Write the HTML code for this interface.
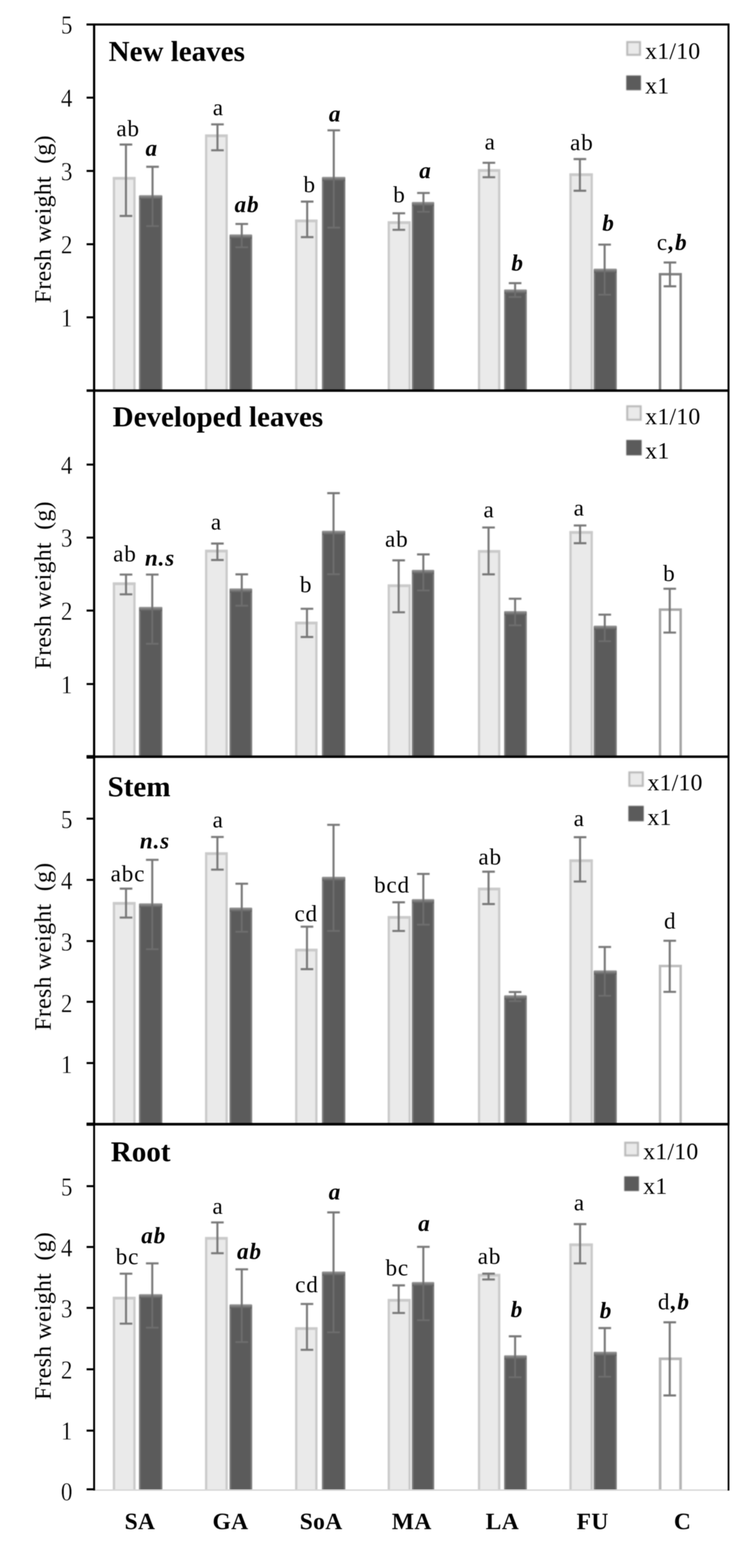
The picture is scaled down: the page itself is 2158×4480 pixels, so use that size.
<!DOCTYPE html>
<html lang="en"><head><meta charset="utf-8"><title>Fresh weight of plant organs</title>
<style>
html,body{margin:0;padding:0;background:#fff;}
body{width:2158px;height:4480px;overflow:hidden;}
svg{display:block;font-family:"Liberation Serif","DejaVu Serif",serif;fill:#000;}
.soft{filter:blur(1.5px);}
.crisp{filter:blur(0.8px);}
.txt{filter:blur(1px);}
.r{font-size:66px;letter-spacing:2.4px;}
.i{font-size:66px;font-weight:bold;font-style:italic;letter-spacing:2.4px;}
.t{font-size:68px;stroke:#fff;stroke-width:0.7px;}
.h{font-size:83px;font-weight:bold;}
.l{font-size:68px;letter-spacing:0.6px;}
.x{font-size:67px;font-weight:bold;letter-spacing:1.2px;}
.y{font-size:68px;letter-spacing:0.8px;white-space:pre;}
</style></head><body>
<svg width="2158" height="4480" viewBox="0 0 2158 4480" role="img" aria-label="Fresh weight (g) of new leaves, developed leaves, stem and root per treatment">
<rect width="2158" height="4480" fill="#fff"/>
<defs><linearGradient id="dtop" x1="0" y1="0" x2="0" y2="1"><stop offset="0" stop-color="#9c9c9c"/><stop offset="0.5" stop-color="#7a7a7a"/><stop offset="1" stop-color="#5b5b5b"/></linearGradient></defs>
<g id="panel1" class="soft">
<rect x="322.5" y="506" width="65" height="610" fill="#eaeaea"/>
<path d="M325.8 1116V509.2H384.2V1116" fill="none" stroke="#cacaca" stroke-width="6.5"/>
<rect x="322.5" y="505.5" width="65" height="8" fill="#cacaca"/>
<rect x="397.5" y="559" width="66.5" height="557" fill="#5b5b5b"/>
<path d="M399.8 1116V561.2H461.8V1116" fill="none" stroke="#7a7a7a" stroke-width="4.5"/>
<rect x="398.5" y="557.5" width="64.5" height="12" fill="url(#dtop)"/>
<path d="M342 413H378M360 413V617M342 617H378" stroke="#777777" stroke-width="5.8" fill="none"/>
<path d="M436 559V646M418 646H454" stroke="#6d6d6d" stroke-width="5.2" fill="none"/>
<path d="M418 476.5H454M436 476.5V559" stroke="#777777" stroke-width="5.8" fill="none"/>
<rect x="586" y="384.4" width="65" height="731.6" fill="#eaeaea"/>
<path d="M589.2 1116V387.6H647.8V1116" fill="none" stroke="#cacaca" stroke-width="6.5"/>
<rect x="586" y="383.9" width="65" height="8" fill="#cacaca"/>
<rect x="656" y="671.2" width="64.5" height="444.8" fill="#5b5b5b"/>
<path d="M658.2 1116V673.5H718.2V1116" fill="none" stroke="#7a7a7a" stroke-width="4.5"/>
<rect x="657" y="669.7" width="62.5" height="12" fill="url(#dtop)"/>
<path d="M603.6 355.4H639.6M621.6 355.4V429.4M603.6 429.4H639.6" stroke="#777777" stroke-width="5.8" fill="none"/>
<path d="M691 671.2V706.5M673 706.5H709" stroke="#6d6d6d" stroke-width="5.2" fill="none"/>
<path d="M673 639.8H709M691 639.8V671.2" stroke="#777777" stroke-width="5.8" fill="none"/>
<rect x="843.5" y="627.7" width="64" height="488.3" fill="#eaeaea"/>
<path d="M846.8 1116V631H904.2V1116" fill="none" stroke="#cacaca" stroke-width="6.5"/>
<rect x="843.5" y="627.2" width="64" height="8" fill="#cacaca"/>
<rect x="920.5" y="506.8" width="66.5" height="609.2" fill="#5b5b5b"/>
<path d="M922.8 1116V509.1H984.8V1116" fill="none" stroke="#7a7a7a" stroke-width="4.5"/>
<rect x="921.5" y="505.3" width="64.5" height="12" fill="url(#dtop)"/>
<path d="M860 576H896M878 576V677.5M860 677.5H896" stroke="#777777" stroke-width="5.8" fill="none"/>
<path d="M954 506.8V650.4M936 650.4H972" stroke="#6d6d6d" stroke-width="5.2" fill="none"/>
<path d="M936 372.3H972M954 372.3V506.8" stroke="#777777" stroke-width="5.8" fill="none"/>
<rect x="1108" y="632.5" width="66" height="483.5" fill="#eaeaea"/>
<path d="M1111.2 1116V635.8H1170.8V1116" fill="none" stroke="#cacaca" stroke-width="6.5"/>
<rect x="1108" y="632" width="66" height="8" fill="#cacaca"/>
<rect x="1177.5" y="578.4" width="63.5" height="537.6" fill="#5b5b5b"/>
<path d="M1179.8 1116V580.6H1238.8V1116" fill="none" stroke="#7a7a7a" stroke-width="4.5"/>
<rect x="1178.5" y="576.9" width="61.5" height="12" fill="url(#dtop)"/>
<path d="M1122 609.3H1158M1140 609.3V656.7M1122 656.7H1158" stroke="#777777" stroke-width="5.8" fill="none"/>
<path d="M1210.3 578.4V605M1192.3 605H1228.3" stroke="#6d6d6d" stroke-width="5.2" fill="none"/>
<path d="M1192.3 551.3H1228.3M1210.3 551.3V578.4" stroke="#777777" stroke-width="5.8" fill="none"/>
<rect x="1366" y="483.6" width="64" height="632.4" fill="#eaeaea"/>
<path d="M1369.2 1116V486.9H1426.8V1116" fill="none" stroke="#cacaca" stroke-width="6.5"/>
<rect x="1366" y="483.1" width="64" height="8" fill="#cacaca"/>
<rect x="1441" y="828.4" width="64.5" height="287.6" fill="#5b5b5b"/>
<path d="M1443.2 1116V830.6H1503.2V1116" fill="none" stroke="#7a7a7a" stroke-width="4.5"/>
<rect x="1442" y="826.9" width="62.5" height="12" fill="url(#dtop)"/>
<path d="M1379.4 465.2H1415.4M1397.4 465.2V506.3M1379.4 506.3H1415.4" stroke="#777777" stroke-width="5.8" fill="none"/>
<path d="M1472.3 828.4V848.7M1454.3 848.7H1490.3" stroke="#6d6d6d" stroke-width="5.2" fill="none"/>
<path d="M1454.3 809H1490.3M1472.3 809V828.4" stroke="#777777" stroke-width="5.8" fill="none"/>
<rect x="1627.5" y="495.6" width="67" height="620.4" fill="#eaeaea"/>
<path d="M1630.8 1116V498.9H1691.2V1116" fill="none" stroke="#cacaca" stroke-width="6.5"/>
<rect x="1627.5" y="495.1" width="67" height="8" fill="#cacaca"/>
<rect x="1697" y="769" width="66" height="347" fill="#5b5b5b"/>
<path d="M1699.2 1116V771.2H1760.8V1116" fill="none" stroke="#7a7a7a" stroke-width="4.5"/>
<rect x="1698" y="767.5" width="64" height="12" fill="url(#dtop)"/>
<path d="M1639.5 454.5H1675.5M1657.5 454.5V545M1639.5 545H1675.5" stroke="#777777" stroke-width="5.8" fill="none"/>
<path d="M1728.2 769V842M1710.2 842H1746.2" stroke="#6d6d6d" stroke-width="5.2" fill="none"/>
<path d="M1710.2 698.8H1746.2M1728.2 698.8V769" stroke="#777777" stroke-width="5.8" fill="none"/>
<rect x="1883" y="780" width="66" height="336" fill="#fff"/>
<path d="M1886.5 1116V783.5H1945.5V1116" fill="none" stroke="#808080" stroke-width="7"/>
<path d="M1896.9 750H1932.9M1914.9 750V818M1896.9 818H1932.9" stroke="#777777" stroke-width="5.8" fill="none"/>
</g>
<g id="text1" class="txt">
<text x="366.2" y="389" class="r" text-anchor="middle">ab</text>
<text x="624.1" y="328.8" class="r" text-anchor="middle">a</text>
<text x="885.3" y="548.8" class="r" text-anchor="middle">b</text>
<text x="1141.7" y="578" class="r" text-anchor="middle">b</text>
<text x="1401" y="426.5" class="r" text-anchor="middle">a</text>
<text x="1663" y="429.4" class="r" text-anchor="middle">ab</text>
<text x="1877.5" y="714" class="r" text-anchor="start">c<tspan class="i" dx="1.5">,b</tspan></text>
<text x="433.7" y="444.5" class="i" text-anchor="middle">a</text>
<text x="705.9" y="606" class="i" text-anchor="middle">ab</text>
<text x="957.7" y="347.2" class="i" text-anchor="middle">a</text>
<text x="1216" y="508.7" class="i" text-anchor="middle">a</text>
<text x="1479.5" y="772.8" class="i" text-anchor="middle">b</text>
<text x="1739.3" y="659" class="i" text-anchor="middle">b</text>
<text x="310.5" y="174" class="h" text-anchor="start">New leaves</text>
<g class="soft">
<rect x="1792.8" y="120.2" width="36.5" height="36.5" fill="#eaeaea" stroke="#b9b9b9" stroke-width="5.5"/>
<rect x="1790" y="215.7" width="42" height="42" fill="#5b5b5b"/>
</g>
<text x="1844" y="168" class="l" text-anchor="start">x1/10</text>
<text x="1844" y="267.4" class="l" text-anchor="start">x1</text>
<text class="t" text-anchor="middle" transform="translate(190.5 96.3) scale(0.97 1.09)">5</text>
<text class="t" text-anchor="middle" transform="translate(190.5 305.3) scale(0.97 1.09)">4</text>
<text class="t" text-anchor="middle" transform="translate(190.5 514.7) scale(0.97 1.09)">3</text>
<text class="t" text-anchor="middle" transform="translate(190.5 724.1) scale(0.97 1.09)">2</text>
<text class="t" text-anchor="middle" transform="translate(190.5 933) scale(0.97 1.09)">1</text>
<text class="y" text-anchor="middle" transform="translate(145 626.1) rotate(-90)" xml:space="preserve">Fresh weight  (g)</text>
</g>
<g id="panel2" class="soft">
<rect x="322.5" y="1664.3" width="65" height="497.2" fill="#eaeaea"/>
<path d="M325.8 2161.5V1667.5H384.2V2161.5" fill="none" stroke="#cacaca" stroke-width="6.5"/>
<rect x="322.5" y="1663.8" width="65" height="8" fill="#cacaca"/>
<rect x="397.5" y="1735.4" width="66.5" height="426.1" fill="#5b5b5b"/>
<path d="M399.8 2161.5V1737.7H461.8V2161.5" fill="none" stroke="#7a7a7a" stroke-width="4.5"/>
<rect x="398.5" y="1733.9" width="64.5" height="12" fill="url(#dtop)"/>
<path d="M342.2 1641.6H378.2M360.2 1641.6V1698.2M342.2 1698.2H378.2" stroke="#777777" stroke-width="5.8" fill="none"/>
<path d="M435.2 1735.4V1839.4M417.2 1839.4H453.2" stroke="#6d6d6d" stroke-width="5.2" fill="none"/>
<path d="M417.2 1641.6H453.2M435.2 1641.6V1735.4" stroke="#777777" stroke-width="5.8" fill="none"/>
<rect x="586" y="1571" width="65" height="590.5" fill="#eaeaea"/>
<path d="M589.2 2161.5V1574.2H647.8V2161.5" fill="none" stroke="#cacaca" stroke-width="6.5"/>
<rect x="586" y="1570.5" width="65" height="8" fill="#cacaca"/>
<rect x="656" y="1682.7" width="64.5" height="478.8" fill="#5b5b5b"/>
<path d="M658.2 2161.5V1685H718.2V2161.5" fill="none" stroke="#7a7a7a" stroke-width="4.5"/>
<rect x="657" y="1681.2" width="62.5" height="12" fill="url(#dtop)"/>
<path d="M603.4 1553H639.4M621.4 1553V1600M603.4 1600H639.4" stroke="#777777" stroke-width="5.8" fill="none"/>
<path d="M691 1682.7V1730.6M673 1730.6H709" stroke="#6d6d6d" stroke-width="5.2" fill="none"/>
<path d="M673 1641H709M691 1641V1682.7" stroke="#777777" stroke-width="5.8" fill="none"/>
<rect x="843.5" y="1776.5" width="64" height="385" fill="#eaeaea"/>
<path d="M846.8 2161.5V1779.8H904.2V2161.5" fill="none" stroke="#cacaca" stroke-width="6.5"/>
<rect x="843.5" y="1776" width="64" height="8" fill="#cacaca"/>
<rect x="920.5" y="1517.8" width="66.5" height="643.7" fill="#5b5b5b"/>
<path d="M922.8 2161.5V1520H984.8V2161.5" fill="none" stroke="#7a7a7a" stroke-width="4.5"/>
<rect x="921.5" y="1516.3" width="64.5" height="12" fill="url(#dtop)"/>
<path d="M859.4 1739.3H895.4M877.4 1739.3V1820M859.4 1820H895.4" stroke="#777777" stroke-width="5.8" fill="none"/>
<path d="M953.3 1517.8V1640.6M935.3 1640.6H971.3" stroke="#6d6d6d" stroke-width="5.2" fill="none"/>
<path d="M935.3 1409H971.3M953.3 1409V1517.8" stroke="#777777" stroke-width="5.8" fill="none"/>
<rect x="1108" y="1670" width="66" height="491.5" fill="#eaeaea"/>
<path d="M1111.2 2161.5V1673.2H1170.8V2161.5" fill="none" stroke="#cacaca" stroke-width="6.5"/>
<rect x="1108" y="1669.5" width="66" height="8" fill="#cacaca"/>
<rect x="1177.5" y="1629.5" width="63.5" height="532" fill="#5b5b5b"/>
<path d="M1179.8 2161.5V1631.8H1238.8V2161.5" fill="none" stroke="#7a7a7a" stroke-width="4.5"/>
<rect x="1178.5" y="1628" width="61.5" height="12" fill="url(#dtop)"/>
<path d="M1121.5 1601H1157.5M1139.5 1601V1749.4M1121.5 1749.4H1157.5" stroke="#777777" stroke-width="5.8" fill="none"/>
<path d="M1210 1629.5V1687M1192 1687H1228" stroke="#6d6d6d" stroke-width="5.2" fill="none"/>
<path d="M1192 1584H1228M1210 1584V1629.5" stroke="#777777" stroke-width="5.8" fill="none"/>
<rect x="1366" y="1572" width="64" height="589.5" fill="#eaeaea"/>
<path d="M1369.2 2161.5V1575.2H1426.8V2161.5" fill="none" stroke="#cacaca" stroke-width="6.5"/>
<rect x="1366" y="1571.5" width="64" height="8" fill="#cacaca"/>
<rect x="1441" y="1747.5" width="64.5" height="414" fill="#5b5b5b"/>
<path d="M1443.2 2161.5V1749.8H1503.2V2161.5" fill="none" stroke="#7a7a7a" stroke-width="4.5"/>
<rect x="1442" y="1746" width="62.5" height="12" fill="url(#dtop)"/>
<path d="M1378.4 1507.2H1414.4M1396.4 1507.2V1641M1378.4 1641H1414.4" stroke="#777777" stroke-width="5.8" fill="none"/>
<path d="M1472.3 1747.5V1786.7M1454.3 1786.7H1490.3" stroke="#6d6d6d" stroke-width="5.2" fill="none"/>
<path d="M1454.3 1710.7H1490.3M1472.3 1710.7V1747.5" stroke="#777777" stroke-width="5.8" fill="none"/>
<rect x="1627.5" y="1517.8" width="67" height="643.7" fill="#eaeaea"/>
<path d="M1630.8 2161.5V1521H1691.2V2161.5" fill="none" stroke="#cacaca" stroke-width="6.5"/>
<rect x="1627.5" y="1517.3" width="67" height="8" fill="#cacaca"/>
<rect x="1697" y="1789" width="66" height="372.5" fill="#5b5b5b"/>
<path d="M1699.2 2161.5V1791.2H1760.8V2161.5" fill="none" stroke="#7a7a7a" stroke-width="4.5"/>
<rect x="1698" y="1787.5" width="64" height="12" fill="url(#dtop)"/>
<path d="M1640 1501.4H1676M1658 1501.4V1552M1640 1552H1676" stroke="#777777" stroke-width="5.8" fill="none"/>
<path d="M1728.6 1789V1832M1710.6 1832H1746.6" stroke="#6d6d6d" stroke-width="5.2" fill="none"/>
<path d="M1710.6 1756.2H1746.6M1728.6 1756.2V1789" stroke="#777777" stroke-width="5.8" fill="none"/>
<rect x="1883" y="1738.3" width="66" height="423.2" fill="#fff"/>
<path d="M1886.5 2161.5V1741.8H1945.5V2161.5" fill="none" stroke="#a6a6a6" stroke-width="7"/>
<path d="M1896.3 1682.2H1932.3M1914.3 1682.2V1807.4M1896.3 1807.4H1932.3" stroke="#777777" stroke-width="5.8" fill="none"/>
</g>
<g id="text2" class="txt">
<text x="357.1" y="1603.9" class="r" text-anchor="middle">ab</text>
<text x="457.2" y="1616" class="i" text-anchor="middle">n.s</text>
<text x="618.7" y="1513" class="r" text-anchor="middle">a</text>
<text x="875" y="1692.4" class="r" text-anchor="middle">b</text>
<text x="1134.1" y="1561.8" class="r" text-anchor="middle">ab</text>
<text x="1397.9" y="1478" class="r" text-anchor="middle">a</text>
<text x="1655.7" y="1473.3" class="r" text-anchor="middle">a</text>
<text x="1913.3" y="1660.4" class="r" text-anchor="middle">b</text>
<text x="322" y="1217.6" class="h" text-anchor="start">Developed leaves</text>
<g class="soft">
<rect x="1792.8" y="1160.8" width="38.5" height="38.5" fill="#eaeaea" stroke="#b9b9b9" stroke-width="5.5"/>
<rect x="1790" y="1257" width="44" height="44" fill="#5b5b5b"/>
</g>
<text x="1844.3" y="1211.8" class="l" text-anchor="start">x1/10</text>
<text x="1844.3" y="1310.4" class="l" text-anchor="start">x1</text>
<text class="t" text-anchor="middle" transform="translate(190.5 1353.7) scale(0.97 1.09)">4</text>
<text class="t" text-anchor="middle" transform="translate(190.5 1562.3) scale(0.97 1.09)">3</text>
<text class="t" text-anchor="middle" transform="translate(190.5 1770.8) scale(0.97 1.09)">2</text>
<text class="t" text-anchor="middle" transform="translate(190.5 1980.7) scale(0.97 1.09)">1</text>
<text class="y" text-anchor="middle" transform="translate(145 1672) rotate(-90)" xml:space="preserve">Fresh weight  (g)</text>
</g>
<g id="panel3" class="soft">
<rect x="322.5" y="2577.6" width="65" height="634.4" fill="#eaeaea"/>
<path d="M325.8 3212V2580.8H384.2V3212" fill="none" stroke="#cacaca" stroke-width="6.5"/>
<rect x="322.5" y="2577.1" width="65" height="8" fill="#cacaca"/>
<rect x="397.5" y="2582.4" width="66.5" height="629.6" fill="#5b5b5b"/>
<path d="M399.8 3212V2584.7H461.8V3212" fill="none" stroke="#7a7a7a" stroke-width="4.5"/>
<rect x="398.5" y="2580.9" width="64.5" height="12" fill="url(#dtop)"/>
<path d="M342.2 2539H378.2M360.2 2539V2621.6M342.2 2621.6H378.2" stroke="#777777" stroke-width="5.8" fill="none"/>
<path d="M435.2 2582.4V2712M417.2 2712H453.2" stroke="#6d6d6d" stroke-width="5.2" fill="none"/>
<path d="M417.2 2456.7H453.2M435.2 2456.7V2582.4" stroke="#777777" stroke-width="5.8" fill="none"/>
<rect x="586" y="2435.4" width="65" height="776.6" fill="#eaeaea"/>
<path d="M589.2 3212V2438.7H647.8V3212" fill="none" stroke="#cacaca" stroke-width="6.5"/>
<rect x="586" y="2434.9" width="65" height="8" fill="#cacaca"/>
<rect x="656" y="2594.5" width="64.5" height="617.5" fill="#5b5b5b"/>
<path d="M658.2 3212V2596.8H718.2V3212" fill="none" stroke="#7a7a7a" stroke-width="4.5"/>
<rect x="657" y="2593" width="62.5" height="12" fill="url(#dtop)"/>
<path d="M603.4 2391.4H639.4M621.4 2391.4V2484.7M603.4 2484.7H639.4" stroke="#777777" stroke-width="5.8" fill="none"/>
<path d="M691 2594.5V2662.2M673 2662.2H709" stroke="#6d6d6d" stroke-width="5.2" fill="none"/>
<path d="M673 2524.9H709M691 2524.9V2594.5" stroke="#777777" stroke-width="5.8" fill="none"/>
<rect x="843.5" y="2711" width="64" height="501" fill="#eaeaea"/>
<path d="M846.8 3212V2714.2H904.2V3212" fill="none" stroke="#cacaca" stroke-width="6.5"/>
<rect x="843.5" y="2710.5" width="64" height="8" fill="#cacaca"/>
<rect x="920.5" y="2506.5" width="66.5" height="705.5" fill="#5b5b5b"/>
<path d="M922.8 3212V2508.8H984.8V3212" fill="none" stroke="#7a7a7a" stroke-width="4.5"/>
<rect x="921.5" y="2505" width="64.5" height="12" fill="url(#dtop)"/>
<path d="M859.4 2647.7H895.4M877.4 2647.7V2769M859.4 2769H895.4" stroke="#777777" stroke-width="5.8" fill="none"/>
<path d="M953.3 2506.5V2659.8M935.3 2659.8H971.3" stroke="#6d6d6d" stroke-width="5.2" fill="none"/>
<path d="M935.3 2356.6H971.3M953.3 2356.6V2506.5" stroke="#777777" stroke-width="5.8" fill="none"/>
<rect x="1108" y="2617.7" width="66" height="594.3" fill="#eaeaea"/>
<path d="M1111.2 3212V2620.9H1170.8V3212" fill="none" stroke="#cacaca" stroke-width="6.5"/>
<rect x="1108" y="2617.2" width="66" height="8" fill="#cacaca"/>
<rect x="1177.5" y="2570.3" width="63.5" height="641.7" fill="#5b5b5b"/>
<path d="M1179.8 3212V2572.6H1238.8V3212" fill="none" stroke="#7a7a7a" stroke-width="4.5"/>
<rect x="1178.5" y="2568.8" width="61.5" height="12" fill="url(#dtop)"/>
<path d="M1121.5 2578H1157.5M1139.5 2578V2659.8M1121.5 2659.8H1157.5" stroke="#777777" stroke-width="5.8" fill="none"/>
<path d="M1210 2570.3V2641.9M1192 2641.9H1228" stroke="#6d6d6d" stroke-width="5.2" fill="none"/>
<path d="M1192 2496.8H1228M1210 2496.8V2570.3" stroke="#777777" stroke-width="5.8" fill="none"/>
<rect x="1366" y="2536.5" width="64" height="675.5" fill="#eaeaea"/>
<path d="M1369.2 3212V2539.8H1426.8V3212" fill="none" stroke="#cacaca" stroke-width="6.5"/>
<rect x="1366" y="2536" width="64" height="8" fill="#cacaca"/>
<rect x="1441" y="2845" width="64.5" height="367" fill="#5b5b5b"/>
<path d="M1443.2 3212V2847.2H1503.2V3212" fill="none" stroke="#7a7a7a" stroke-width="4.5"/>
<rect x="1442" y="2843.5" width="62.5" height="12" fill="url(#dtop)"/>
<path d="M1378.4 2490.5H1414.4M1396.4 2490.5V2583M1378.4 2583H1414.4" stroke="#777777" stroke-width="5.8" fill="none"/>
<path d="M1472.3 2845V2860.5M1454.3 2860.5H1490.3" stroke="#6d6d6d" stroke-width="5.2" fill="none"/>
<path d="M1454.3 2834.4H1490.3M1472.3 2834.4V2845" stroke="#777777" stroke-width="5.8" fill="none"/>
<rect x="1627.5" y="2455.7" width="67" height="756.3" fill="#eaeaea"/>
<path d="M1630.8 3212V2458.9H1691.2V3212" fill="none" stroke="#cacaca" stroke-width="6.5"/>
<rect x="1627.5" y="2455.2" width="67" height="8" fill="#cacaca"/>
<rect x="1697" y="2774" width="66" height="438" fill="#5b5b5b"/>
<path d="M1699.2 3212V2776.2H1760.8V3212" fill="none" stroke="#7a7a7a" stroke-width="4.5"/>
<rect x="1698" y="2772.5" width="64" height="12" fill="url(#dtop)"/>
<path d="M1640 2392H1676M1658 2392V2518.6M1640 2518.6H1676" stroke="#777777" stroke-width="5.8" fill="none"/>
<path d="M1728.6 2774V2845M1710.6 2845H1746.6" stroke="#6d6d6d" stroke-width="5.2" fill="none"/>
<path d="M1710.6 2705.7H1746.6M1728.6 2705.7V2774" stroke="#777777" stroke-width="5.8" fill="none"/>
<rect x="1883" y="2756.5" width="66" height="455.5" fill="#fff"/>
<path d="M1886.5 3212V2760H1945.5V3212" fill="none" stroke="#bcbcbc" stroke-width="7"/>
<path d="M1896.3 2687.8H1932.3M1914.3 2687.8V2833.9M1896.3 2833.9H1932.3" stroke="#777777" stroke-width="5.8" fill="none"/>
</g>
<g id="text3" class="txt">
<text x="365.7" y="2517.8" class="r" text-anchor="middle">abc</text>
<text x="442.9" y="2423.8" class="i" text-anchor="middle">n.s</text>
<text x="623.5" y="2363.8" class="r" text-anchor="middle">a</text>
<text x="875.2" y="2632.2" class="r" text-anchor="middle">cd</text>
<text x="1120.4" y="2550" class="r" text-anchor="middle">bcd</text>
<text x="1401" y="2470.2" class="r" text-anchor="middle">ab</text>
<text x="1655.5" y="2360" class="r" text-anchor="middle">a</text>
<text x="1915.8" y="2653" class="r" text-anchor="middle">d</text>
<text x="307.5" y="2274.9" class="h" text-anchor="start">Stem</text>
<g class="soft">
<rect x="1798.8" y="2206.8" width="38.5" height="38.5" fill="#eaeaea" stroke="#b9b9b9" stroke-width="5.5"/>
<rect x="1796" y="2302.4" width="44" height="44" fill="#5b5b5b"/>
</g>
<text x="1850.5" y="2258" class="l" text-anchor="start">x1/10</text>
<text x="1850.5" y="2357" class="l" text-anchor="start">x1</text>
<text class="t" text-anchor="middle" transform="translate(190.5 2366.3) scale(0.97 1.09)">5</text>
<text class="t" text-anchor="middle" transform="translate(190.5 2540.8) scale(0.97 1.09)">4</text>
<text class="t" text-anchor="middle" transform="translate(190.5 2716.1) scale(0.97 1.09)">3</text>
<text class="t" text-anchor="middle" transform="translate(190.5 2891.8) scale(0.97 1.09)">2</text>
<text class="t" text-anchor="middle" transform="translate(190.5 3066.1) scale(0.97 1.09)">1</text>
<text class="y" text-anchor="middle" transform="translate(145 2704.5) rotate(-90)" xml:space="preserve">Fresh weight  (g)</text>
</g>
<g id="panel4" class="soft">
<rect x="322.5" y="3705.4" width="65" height="551.6" fill="#eaeaea"/>
<path d="M325.8 4257V3708.7H384.2V4257" fill="none" stroke="#cacaca" stroke-width="6.5"/>
<rect x="322.5" y="3704.9" width="65" height="8" fill="#cacaca"/>
<rect x="397.5" y="3699" width="66.5" height="558" fill="#5b5b5b"/>
<path d="M399.8 4257V3701.2H461.8V4257" fill="none" stroke="#7a7a7a" stroke-width="4.5"/>
<rect x="398.5" y="3697.5" width="64.5" height="12" fill="url(#dtop)"/>
<path d="M342.2 3639.2H378.2M360.2 3639.2V3781.8M342.2 3781.8H378.2" stroke="#777777" stroke-width="5.8" fill="none"/>
<path d="M435.2 3699V3793.4M417.2 3793.4H453.2" stroke="#6d6d6d" stroke-width="5.2" fill="none"/>
<path d="M417.2 3609.7H453.2M435.2 3609.7V3699" stroke="#777777" stroke-width="5.8" fill="none"/>
<rect x="586" y="3534.7" width="65" height="722.3" fill="#eaeaea"/>
<path d="M589.2 4257V3537.9H647.8V4257" fill="none" stroke="#cacaca" stroke-width="6.5"/>
<rect x="586" y="3534.2" width="65" height="8" fill="#cacaca"/>
<rect x="656" y="3728" width="64.5" height="529" fill="#5b5b5b"/>
<path d="M658.2 4257V3730.2H718.2V4257" fill="none" stroke="#7a7a7a" stroke-width="4.5"/>
<rect x="657" y="3726.5" width="62.5" height="12" fill="url(#dtop)"/>
<path d="M603.4 3492.6H639.4M621.4 3492.6V3580.6M603.4 3580.6H639.4" stroke="#777777" stroke-width="5.8" fill="none"/>
<path d="M691 3728V3834.5M673 3834.5H709" stroke="#6d6d6d" stroke-width="5.2" fill="none"/>
<path d="M673 3626.6H709M691 3626.6V3728" stroke="#777777" stroke-width="5.8" fill="none"/>
<rect x="843.5" y="3792.4" width="64" height="464.6" fill="#eaeaea"/>
<path d="M846.8 4257V3795.7H904.2V4257" fill="none" stroke="#cacaca" stroke-width="6.5"/>
<rect x="843.5" y="3791.9" width="64" height="8" fill="#cacaca"/>
<rect x="920.5" y="3634.3" width="66.5" height="622.7" fill="#5b5b5b"/>
<path d="M922.8 4257V3636.6H984.8V4257" fill="none" stroke="#7a7a7a" stroke-width="4.5"/>
<rect x="921.5" y="3632.8" width="64.5" height="12" fill="url(#dtop)"/>
<path d="M859.4 3725.7H895.4M877.4 3725.7V3856.7M859.4 3856.7H895.4" stroke="#777777" stroke-width="5.8" fill="none"/>
<path d="M953.3 3634.3V3806.5M935.3 3806.5H971.3" stroke="#6d6d6d" stroke-width="5.2" fill="none"/>
<path d="M935.3 3464H971.3M953.3 3464V3634.3" stroke="#777777" stroke-width="5.8" fill="none"/>
<rect x="1108" y="3711.7" width="66" height="545.3" fill="#eaeaea"/>
<path d="M1111.2 4257V3714.9H1170.8V4257" fill="none" stroke="#cacaca" stroke-width="6.5"/>
<rect x="1108" y="3711.2" width="66" height="8" fill="#cacaca"/>
<rect x="1177.5" y="3664.3" width="63.5" height="592.7" fill="#5b5b5b"/>
<path d="M1179.8 4257V3666.6H1238.8V4257" fill="none" stroke="#7a7a7a" stroke-width="4.5"/>
<rect x="1178.5" y="3662.8" width="61.5" height="12" fill="url(#dtop)"/>
<path d="M1121.5 3672.5H1157.5M1139.5 3672.5V3751.4M1121.5 3751.4H1157.5" stroke="#777777" stroke-width="5.8" fill="none"/>
<path d="M1210 3664.3V3772M1192 3772H1228" stroke="#6d6d6d" stroke-width="5.2" fill="none"/>
<path d="M1192 3562.3H1228M1210 3562.3V3664.3" stroke="#777777" stroke-width="5.8" fill="none"/>
<rect x="1366" y="3640" width="64" height="617" fill="#eaeaea"/>
<path d="M1369.2 4257V3643.2H1426.8V4257" fill="none" stroke="#cacaca" stroke-width="6.5"/>
<rect x="1366" y="3639.5" width="64" height="8" fill="#cacaca"/>
<rect x="1441" y="3873.7" width="64.5" height="383.3" fill="#5b5b5b"/>
<path d="M1443.2 4257V3875.9H1503.2V4257" fill="none" stroke="#7a7a7a" stroke-width="4.5"/>
<rect x="1442" y="3872.2" width="62.5" height="12" fill="url(#dtop)"/>
<path d="M1378.4 3639H1414.4M1396.4 3639V3655.6M1378.4 3655.6H1414.4" stroke="#777777" stroke-width="5.8" fill="none"/>
<path d="M1472.3 3873.7V3935M1454.3 3935H1490.3" stroke="#6d6d6d" stroke-width="5.2" fill="none"/>
<path d="M1454.3 3818H1490.3M1472.3 3818V3873.7" stroke="#777777" stroke-width="5.8" fill="none"/>
<rect x="1627.5" y="3553" width="67" height="704" fill="#eaeaea"/>
<path d="M1630.8 4257V3556.2H1691.2V4257" fill="none" stroke="#cacaca" stroke-width="6.5"/>
<rect x="1627.5" y="3552.5" width="67" height="8" fill="#cacaca"/>
<rect x="1697" y="3863.6" width="66" height="393.4" fill="#5b5b5b"/>
<path d="M1699.2 4257V3865.8H1760.8V4257" fill="none" stroke="#7a7a7a" stroke-width="4.5"/>
<rect x="1698" y="3862.1" width="64" height="12" fill="url(#dtop)"/>
<path d="M1640 3497.5H1676M1658 3497.5V3609.7M1640 3609.7H1676" stroke="#777777" stroke-width="5.8" fill="none"/>
<path d="M1728.6 3863.6V3933.5M1710.6 3933.5H1746.6" stroke="#6d6d6d" stroke-width="5.2" fill="none"/>
<path d="M1710.6 3794.5H1746.6M1728.6 3794.5V3863.6" stroke="#777777" stroke-width="5.8" fill="none"/>
<rect x="1883" y="3878.5" width="66" height="378.5" fill="#fff"/>
<path d="M1886.8 4257V3882.2H1945.2V4257" fill="none" stroke="#b5b5b5" stroke-width="7.5"/>
<path d="M1896.3 3778H1932.3M1914.3 3778V3987M1896.3 3987H1932.3" stroke="#777777" stroke-width="5.8" fill="none"/>
</g>
<g id="text4" class="txt">
<text x="364.3" y="3612" class="r" text-anchor="middle">bc</text>
<text x="439.2" y="3552" class="i" text-anchor="middle">ab</text>
<text x="623" y="3467.5" class="r" text-anchor="middle">a</text>
<text x="713" y="3596.6" class="i" text-anchor="middle">ab</text>
<text x="877.4" y="3692.4" class="r" text-anchor="middle">cd</text>
<text x="957.1" y="3427.4" class="i" text-anchor="middle">a</text>
<text x="1135.5" y="3644" class="r" text-anchor="middle">bc</text>
<text x="1213" y="3516.8" class="i" text-anchor="middle">a</text>
<text x="1399.1" y="3611" class="r" text-anchor="middle">ab</text>
<text x="1477.5" y="3762.5" class="i" text-anchor="middle">b</text>
<text x="1656.2" y="3457.5" class="r" text-anchor="middle">a</text>
<text x="1732" y="3765.9" class="i" text-anchor="middle">b</text>
<text x="1880.5" y="3740.7" class="r" text-anchor="start">d<tspan class="i" dx="1.5">,b</tspan></text>
<text x="316.7" y="3317.6" class="h" text-anchor="start">Root</text>
<g class="soft">
<rect x="1787" y="3264.8" width="36.5" height="36.5" fill="#eaeaea" stroke="#b9b9b9" stroke-width="5.5"/>
<rect x="1784.3" y="3361" width="42" height="42" fill="#5b5b5b"/>
</g>
<text x="1838.5" y="3311.8" class="l" text-anchor="start">x1/10</text>
<text x="1838.5" y="3411" class="l" text-anchor="start">x1</text>
<text class="t" text-anchor="middle" transform="translate(190.5 3415.6) scale(0.97 1.09)">5</text>
<text class="t" text-anchor="middle" transform="translate(190.5 3589.8) scale(0.97 1.09)">4</text>
<text class="t" text-anchor="middle" transform="translate(190.5 3764.2) scale(0.97 1.09)">3</text>
<text class="t" text-anchor="middle" transform="translate(190.5 3938.6) scale(0.97 1.09)">2</text>
<text class="t" text-anchor="middle" transform="translate(190.5 4113.1) scale(0.97 1.09)">1</text>
<text class="t" text-anchor="middle" transform="translate(190.5 4287.4) scale(0.97 1.09)">0</text>
<text class="y" text-anchor="middle" transform="translate(145 3759.9) rotate(-90)" xml:space="preserve">Fresh weight  (g)</text>
</g>
<g id="frame" class="crisp">
<line x1="269" y1="4257.4" x2="2082.3" y2="4257.4" stroke="#d4d4d4" stroke-width="3.6"/>
<line x1="247.5" y1="70" x2="269" y2="70" stroke="#000" stroke-width="5.8"/>
<line x1="247.5" y1="279" x2="269" y2="279" stroke="#000" stroke-width="5.8"/>
<line x1="247.5" y1="488.4" x2="269" y2="488.4" stroke="#000" stroke-width="5.8"/>
<line x1="247.5" y1="697.8" x2="269" y2="697.8" stroke="#000" stroke-width="5.8"/>
<line x1="247.5" y1="906.7" x2="269" y2="906.7" stroke="#000" stroke-width="5.8"/>
<line x1="247.5" y1="1327.4" x2="269" y2="1327.4" stroke="#000" stroke-width="5.8"/>
<line x1="247.5" y1="1536" x2="269" y2="1536" stroke="#000" stroke-width="5.8"/>
<line x1="247.5" y1="1744.5" x2="269" y2="1744.5" stroke="#000" stroke-width="5.8"/>
<line x1="247.5" y1="1954.4" x2="269" y2="1954.4" stroke="#000" stroke-width="5.8"/>
<line x1="247.5" y1="2339" x2="269" y2="2339" stroke="#000" stroke-width="5.8"/>
<line x1="247.5" y1="2514" x2="269" y2="2514" stroke="#000" stroke-width="5.8"/>
<line x1="247.5" y1="2688.8" x2="269" y2="2688.8" stroke="#000" stroke-width="5.8"/>
<line x1="247.5" y1="2862.3" x2="269" y2="2862.3" stroke="#000" stroke-width="5.8"/>
<line x1="247.5" y1="3037.3" x2="269" y2="3037.3" stroke="#000" stroke-width="5.8"/>
<line x1="247.5" y1="3389" x2="269" y2="3389" stroke="#000" stroke-width="5.8"/>
<line x1="247.5" y1="3562.8" x2="269" y2="3562.8" stroke="#000" stroke-width="5.8"/>
<line x1="247.5" y1="3736.8" x2="269" y2="3736.8" stroke="#000" stroke-width="5.8"/>
<line x1="247.5" y1="3912.3" x2="269" y2="3912.3" stroke="#000" stroke-width="5.8"/>
<line x1="247.5" y1="4087.5" x2="269" y2="4087.5" stroke="#000" stroke-width="5.8"/>
<line x1="247.5" y1="4255.2" x2="269" y2="4255.2" stroke="#000" stroke-width="5.8"/>
<line x1="269" y1="67" x2="269" y2="3214" stroke="#000" stroke-width="6.4"/>
<line x1="269" y1="3212" x2="269" y2="4258.4" stroke="#000" stroke-width="5.5"/>
<line x1="2082.3" y1="67" x2="2082.3" y2="3214" stroke="#000" stroke-width="5.6"/>
<line x1="2082.3" y1="3212" x2="2082.3" y2="4258.8" stroke="#000" stroke-width="4.9"/>
<line x1="247.5" y1="70" x2="2085.1" y2="70" stroke="#000" stroke-width="6.2"/>
<line x1="247.5" y1="1116" x2="2084.8" y2="1116" stroke="#000" stroke-width="6.8"/>
<line x1="247.5" y1="2162" x2="2084.8" y2="2162" stroke="#000" stroke-width="6.8"/>
<line x1="247.5" y1="2162.5" x2="269" y2="2162.5" stroke="#000" stroke-width="10"/>
<line x1="247.5" y1="3212" x2="269" y2="3212" stroke="#000" stroke-width="9"/>
<line x1="247.5" y1="3212" x2="2084.8" y2="3212" stroke="#000" stroke-width="7.6"/>
</g>
<g id="xlabels" class="txt">
<text x="400.2" y="4369" class="x" text-anchor="middle">SA</text>
<text x="659" y="4369" class="x" text-anchor="middle">GA</text>
<text x="918" y="4369" class="x" text-anchor="middle">SoA</text>
<text x="1177" y="4369" class="x" text-anchor="middle">MA</text>
<text x="1436" y="4369" class="x" text-anchor="middle">LA</text>
<text x="1694" y="4369" class="x" text-anchor="middle">FU</text>
<text x="1951" y="4369" class="x" text-anchor="middle">C</text>
</g>
</svg></body></html>
